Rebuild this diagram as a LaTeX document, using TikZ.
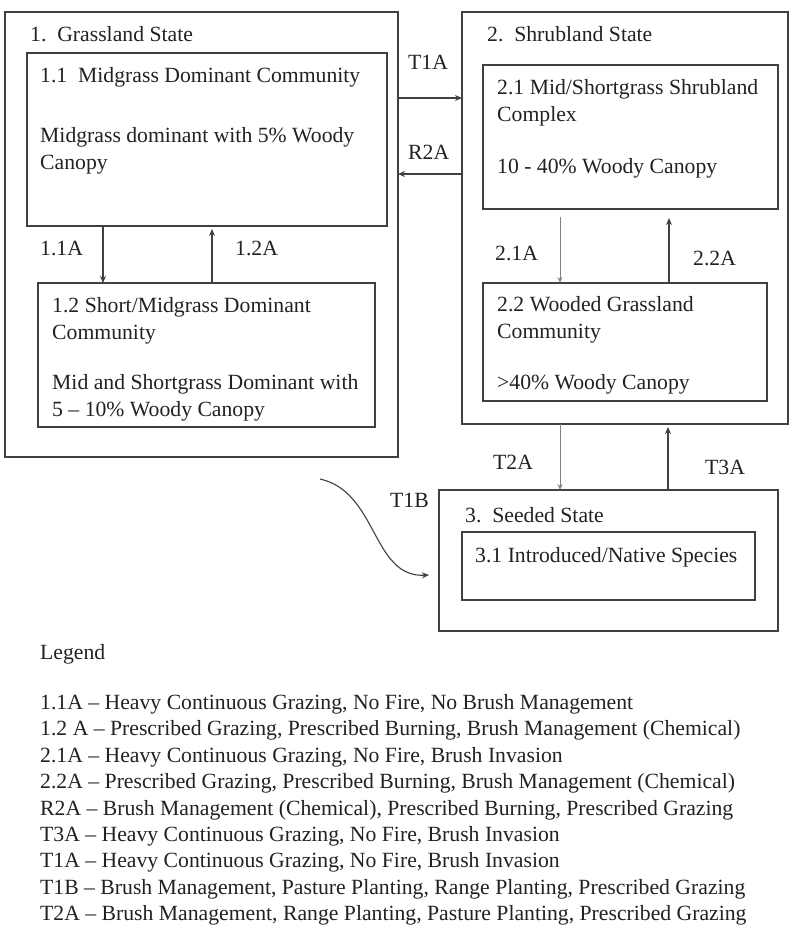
\documentclass[tikz,border=0pt]{standalone}
\usepackage{fontspec}
\setmainfont{Liberation Serif}
\usetikzlibrary{positioning,arrows.meta}
\definecolor{boxgray}{RGB}{64,64,64}
\definecolor{txtgray}{RGB}{34,34,34}
\definecolor{thingray}{RGB}{130,130,130}

\begin{document}
\begin{tikzpicture}[x=1pt,y=-1pt,
	box/.style={draw=boxgray, line width=1.6pt, anchor=north west, inner sep=0pt, outer sep=0pt},
	txt/.style={inner sep=0pt, anchor=north west, align=left, text=txtgray, font=\fontsize{21.7}{26.5}\selectfont},
	lbl/.style={inner sep=0pt, anchor=base west, text=txtgray, font=\fontsize{21.7}{26.5}\selectfont},
	arr/.style={draw=boxgray, line width=1.3pt, -{Stealth[length=7pt,width=6pt]}},
	thinarr/.style={draw=thingray, line width=0.8pt, -{Stealth[length=6pt,width=5pt]}}]
	\useasboundingbox[fill=white] (0,0) rectangle (800,940);

	\node[box, minimum width=393pt, minimum height=445pt] (grass) at (5,12) {};
	\node[box, minimum width=360pt, minimum height=173pt] (g11) at (27,53) {};
	\node[box, minimum width=337pt, minimum height=144pt] (g12) at (38,283) {};
	\node[box, minimum width=326pt, minimum height=412pt] (shrub) at (462,12) {};
	\node[box, minimum width=295pt, minimum height=144pt] (s21) at (483,65) {};
	\node[box, minimum width=284pt, minimum height=118pt] (s22) at (483,283) {};
	\node[box, minimum width=339pt, minimum height=141pt] (seed) at (439,490) {};
	\node[box, minimum width=293pt, minimum height=68pt] (s31) at (462,532) {};

	\node[txt, below right=14.3pt and 25pt of grass.north west] (grasstitle) {1.\hspace{0.5em}Grassland State};
	\node[txt, below right=14.3pt and 13pt of g11.north west] (g11text) {1.1\hspace{0.5em}Midgrass Dominant Community\\[33.5pt]Midgrass dominant with 5\% Woody\\Canopy};
	\node[txt, below right=14.3pt and 14pt of g12.north west] (g12text) {1.2 Short/Midgrass Dominant\\Community\\[24pt]Mid and Shortgrass Dominant with\\5 – 10\% Woody Canopy};
	\node[txt, below right=14.3pt and 25pt of shrub.north west] (shrubtitle) {2.\hspace{0.5em}Shrubland State};
	\node[txt, below right=14.3pt and 14pt of s21.north west] (s21text) {2.1 Mid/Shortgrass Shrubland\\Complex\\[25.5pt]10 - 40\% Woody Canopy};
	\node[txt, below right=13.3pt and 14pt of s22.north west] (s22text) {2.2 Wooded Grassland\\Community\\[24.5pt]>40\% Woody Canopy};
	\node[txt, below right=17.3pt and 26pt of seed.north west] (seedtitle) {3.\hspace{0.5em}Seeded State};
	\node[txt, below right=15.3pt and 13pt of s31.north west] (s31text) {3.1 Introduced/Native Species};

	\draw[arr] ([yshift=-86pt]grass.north east) -- ([yshift=-86pt]shrub.north west);
	\draw[arr] ([yshift=-162pt]shrub.north west) -- ([yshift=-162pt]grass.north east);
	\draw[arr] ([xshift=76pt]g11.south west) -- ([xshift=65pt]g12.north west);
	\draw[arr] ([xshift=174pt]g12.north west) -- ([xshift=185pt,yshift=-3pt]g11.south west);
	\draw[thinarr] ([xshift=77pt,yshift=-8pt]s21.south west) -- ([xshift=77pt]s22.north west);
	\draw[arr] ([xshift=186pt]s22.north west) -- ([xshift=186pt,yshift=-9pt]s21.south west);
	\draw[thinarr] ([xshift=98pt]shrub.south west) -- ([xshift=121pt]seed.north west);
	\draw[arr] ([xshift=229pt]seed.north west) -- ([xshift=206pt,yshift=-3pt]shrub.south west);

	\coordinate (t1bstart) at (320,479);
	\coordinate (t1bend) at (429,575);
	\draw[arr, line width=1.1pt] (t1bstart) .. controls (378,492) and (372,578) .. (t1bend);

	\node[lbl] (l11a) at (40,255) {1.1A};
	\node[lbl] (l12a) at (235,255) {1.2A};
	\node[lbl] (lt1a) at (408,69) {T1A};
	\node[lbl] (lr2a) at (408,159) {R2A};
	\node[lbl] (l21a) at (495,260) {2.1A};
	\node[lbl] (l22a) at (693,265) {2.2A};
	\node[lbl] (lt2a) at (493,469) {T2A};
	\node[lbl] (lt3a) at (705,474) {T3A};
	\node[lbl] (lt1b) at (390,507) {T1B};

	\node[txt, font=\fontsize{21.7}{26.4}\selectfont] (legend) at (40,644.3) {Legend\\[23.6pt]
		1.1A – Heavy Continuous Grazing, No Fire, No Brush Management\\
		1.2 A – Prescribed Grazing, Prescribed Burning, Brush Management (Chemical)\\
		2.1A – Heavy Continuous Grazing, No Fire, Brush Invasion\\
		2.2A – Prescribed Grazing, Prescribed Burning, Brush Management (Chemical)\\
		R2A – Brush Management (Chemical), Prescribed Burning, Prescribed Grazing\\
		T3A – Heavy Continuous Grazing, No Fire, Brush Invasion\\
		T1A – Heavy Continuous Grazing, No Fire, Brush Invasion\\
		T1B – Brush Management, Pasture Planting, Range Planting, Prescribed Grazing\\
		T2A – Brush Management, Range Planting, Pasture Planting, Prescribed Grazing};
\end{tikzpicture}
\end{document}
